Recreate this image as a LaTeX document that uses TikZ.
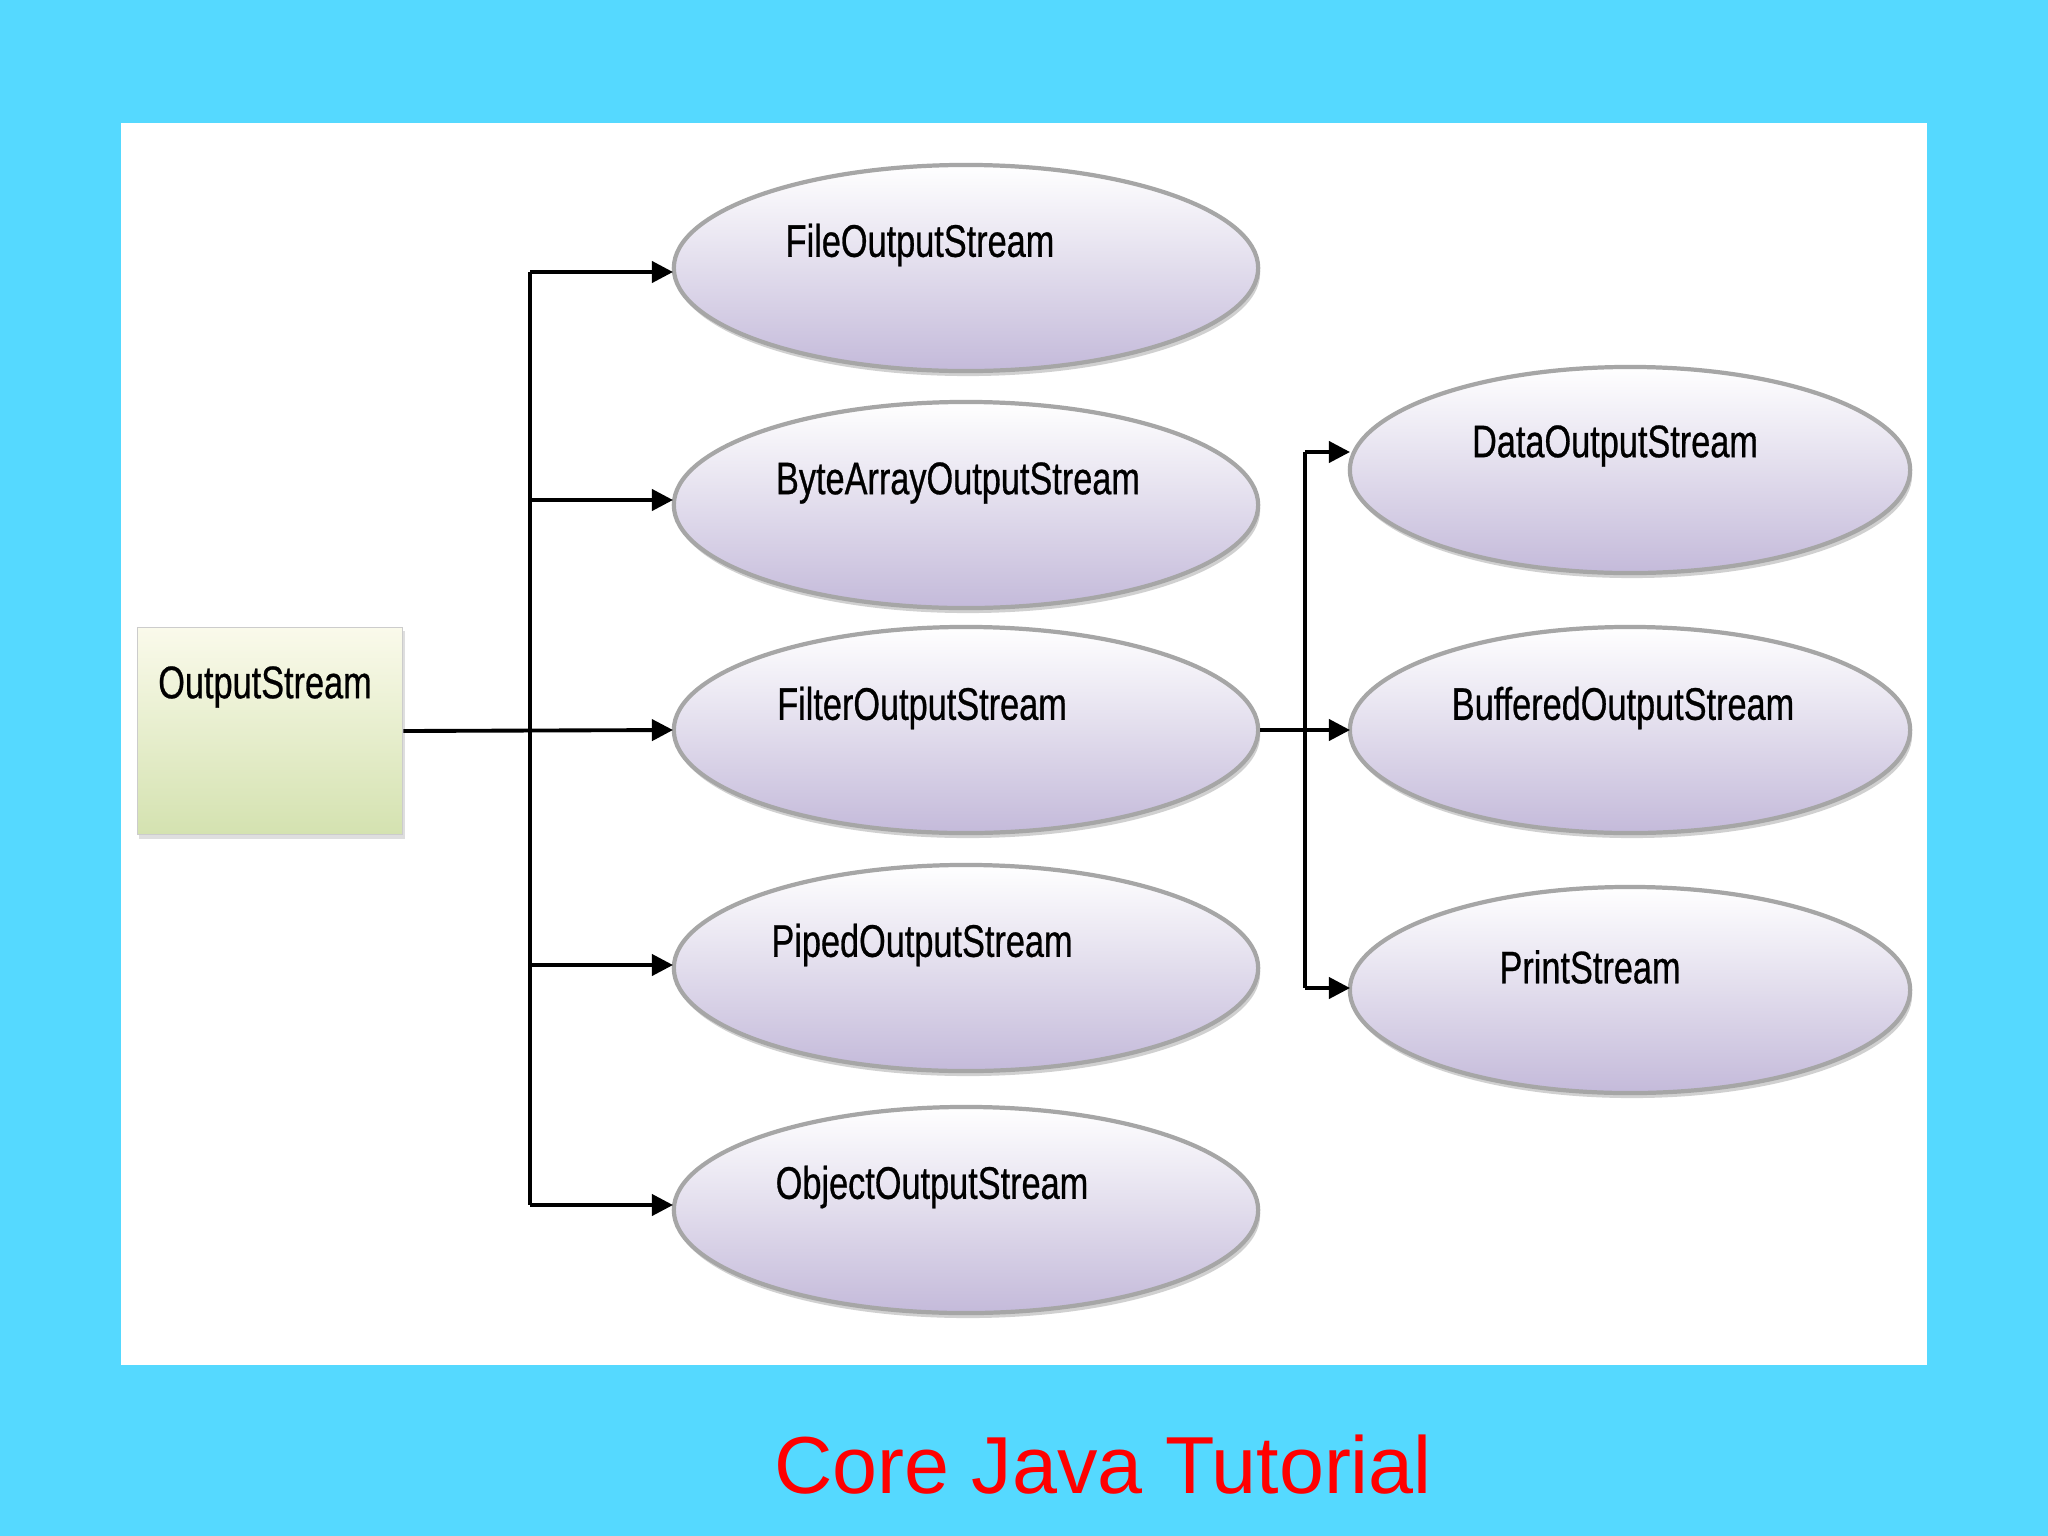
\documentclass[tikz,border=0pt]{standalone}
\usepackage{fontspec}
\setmainfont{Liberation Sans}
\newfontfamily\narrowfont[FakeStretch=0.75,FakeBold=0.6]{Liberation Sans}
\usetikzlibrary{shapes.geometric,arrows.meta,shadows}
\definecolor{bgcyan}{RGB}{85,217,255}
\definecolor{lav}{RGB}{196,186,218}
\definecolor{boxtop}{RGB}{250,250,235}
\definecolor{boxbot}{RGB}{212,226,176}
\tikzset{
  px/.style={x=0.01cm,y=-0.01cm},
  oval/.style={ellipse,minimum width=5.84cm,minimum height=2.06cm,top color=white,bottom color=lav,draw=gray!70,line width=1.2pt,
     drop shadow={shadow xshift=0.02cm,shadow yshift=-0.05cm,fill=gray!60,opacity=0.6}},
  lbl/.style={font=\narrowfont\fontsize{13}{16}\selectfont},
  conn/.style={line width=1.1pt,-{Triangle[length=6pt,width=6pt]}},
  plain/.style={line width=1.1pt}
}
\begin{document}
\begin{tikzpicture}[px]
\fill[bgcyan] (0,0) rectangle (2048,1536);
\fill[white] (121,123) rectangle (1927,1365);
\node[draw=gray!40,top color=boxtop,bottom color=boxbot,minimum width=2.65cm,minimum height=2.07cm,
  drop shadow={shadow xshift=0.02cm,shadow yshift=-0.04cm,fill=gray!50,opacity=0.5}] (os) at (270,731) {};
\node[lbl] at (265,687) {OutputStream};
\node[oval] (f) at (966,268) {}; \node[lbl] at (920,245) {FileOutputStream};
\node[oval] (b) at (966,505) {}; \node[lbl] at (958,483) {ByteArrayOutputStream};
\node[oval] (fi) at (966,730) {}; \node[lbl] at (922,708) {FilterOutputStream};
\node[oval] (p) at (966,968) {}; \node[lbl] at (922,945) {PipedOutputStream};
\node[oval] (o) at (966,1210) {}; \node[lbl] at (932,1187) {ObjectOutputStream};
\node[oval,minimum width=5.6cm] (d) at (1630,470) {}; \node[lbl] at (1615,446) {DataOutputStream};
\node[oval,minimum width=5.6cm] (bu) at (1630,730) {}; \node[lbl] at (1623,708) {BufferedOutputStream};
\node[oval,minimum width=5.6cm] (pr) at (1630,990) {}; \node[lbl] at (1590,967) {PrintStream};
\coordinate (t1) at (530,272); \coordinate (t5) at (530,1205);
\draw[plain] (t1) -- (t5);
\draw[conn] (t1) -- (673,272);
\draw[conn] (530,500) -- (673,500);
\draw[conn] (os.east) -- (673,730);
\draw[conn] (530,965) -- (673,965);
\draw[conn] (t5) -- (673,1205);
\draw[plain] (1305,452) -- (1305,988);
\draw[plain] (fi.east) -- (1305,730);
\draw[conn] (1305,452) -- (1350,452);
\draw[conn] (1305,730) -- (1350,730);
\draw[conn] (1305,988) -- (1350,988);
\node[text=red,font=\fontsize{23}{27}\selectfont] at (1103,1465) {Core Java Tutorial};
\end{tikzpicture}
\end{document}
